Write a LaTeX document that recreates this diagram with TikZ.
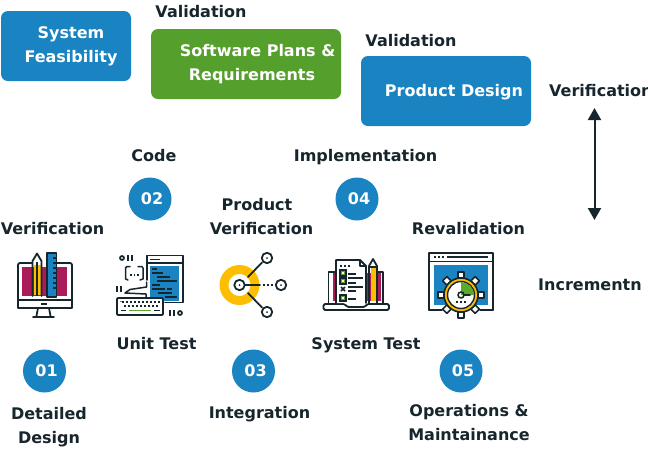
\documentclass[tikz,border=0pt]{standalone}
\usepackage{fontspec}
\setmainfont{DejaVu Sans}
\usetikzlibrary{arrows.meta}
\definecolor{ink}{HTML}{17252C}
\definecolor{bluebox}{HTML}{1A83C1}
\definecolor{greenbox}{HTML}{559F2C}
\definecolor{mag}{HTML}{AB1B59}
\definecolor{gold}{HTML}{FDBE00}
\definecolor{iconblue}{HTML}{1A83C1}
\definecolor{icongreen}{HTML}{5BA92F}
\tikzset{
 lbl/.style={text=ink,font=\bfseries\fontsize{16}{24}\selectfont,align=center,inner sep=0pt},
 badge/.style={circle,fill=bluebox,text=white,minimum size=43pt,inner sep=0pt,font=\bfseries\fontsize{16}{18}\selectfont},
 ic/.style={draw=ink,line width=1.8pt,line cap=round,line join=round},
 thin/.style={draw=ink,line width=1.2pt},
 dotl/.style={draw=ink,line width=2pt,dash pattern=on 2pt off 2pt},
}
\newcommand{\badgetext}[1]{\kern4pt #1}
\begin{document}
\begin{tikzpicture}[x=1pt,y=-1pt]
\useasboundingbox (0,0) rectangle (648,448);
\clip (0,0) rectangle (648,448);
% top boxes
\fill[bluebox,rounded corners=7pt] (1,11) rectangle (131,81);
\fill[greenbox,rounded corners=7pt] (151,29) rectangle (341,99);
\fill[bluebox,rounded corners=7pt] (361,56) rectangle (531,126);
\node[lbl,text=white] (feas) at (71,46) {System\\Feasibility};
\node[lbl,text=white] (plans) at (257.5,64) {Software Plans \&\\Requirements\kern11pt};
\node[lbl,text=white] (pdes) at (454,92) {Product Design};
\node[lbl] (val1) at (201,12) {Validation};
\node[lbl] (val2) at (411,41) {Validation};
\node[lbl,anchor=west] (ver1) at (549,91) {Verification};
\coordinate (up) at (594.5,108);
\coordinate (dn) at (594.5,220);
\draw[draw=ink,line width=2pt,{Triangle[length=12pt,width=13pt]}-{Triangle[length=12pt,width=13pt]}] (up) -- (dn);
\node[lbl] (code) at (154,156) {Code};
\node[lbl] (impl) at (365.5,157) {Implementation};
\node[badge] (b2) at (150,199) {\badgetext{02}};
\node[badge] (b4) at (357,199) {\badgetext{04}};
\node[lbl] (pver) at (261.5,217) {Product\kern9pt\\Verification};
\node[lbl] (ver2) at (52.5,229) {Verification};
\node[lbl] (rev) at (468.5,229) {Revalidation};
\node[lbl,anchor=west] (inc) at (538,285) {Incrementn};
\node[lbl] (ut) at (156.5,344) {Unit Test};
\node[lbl] (st) at (366,345) {System Test};
\node[badge] (b1) at (44.5,371) {\badgetext{01}};
\node[badge] (b3) at (253.5,371) {\badgetext{03}};
\node[badge] (b5) at (461,371) {\badgetext{05}};
\node[lbl] (dd) at (49,427) {Detailed\\Design};
\node[lbl] (integ) at (259.5,414) {Integration};
\node[lbl] (ops) at (469,423) {Operations \&\\Maintainance};
% icon 1 monitor
\fill[mag] (22,267) rectangle (67,296);
\draw[ic] (32,263) -- (20,263) arc[start angle=-90,end angle=-180,radius=2] -- (18,308) -- (72,308) -- (72,265) arc[start angle=0,end angle=-90,radius=2] -- (57,263);
\draw[ic] (18,300) -- (72,300);
\draw[ic] (38,308) -- (36.5,316) (49,308) -- (50.5,316) (33,317) -- (54,317);
\draw[draw=ink,line width=1.2pt] (41,304) -- (47,304);
\fill[gold] (33.5,265) rectangle (40.5,295);
\draw[ic] (32.5,296) -- (32.5,261) -- (37,253.5) -- (41.5,261) -- (41.5,296);
\draw[thin] (37,262) -- (37,296);
\fill[iconblue] (47,253) rectangle (56.5,296);
\draw[ic] (47,253) rectangle (56.5,297);
\draw[thin] (53,258) -- (56,258) (53,263) -- (56,263) (53,268) -- (56,268) (53,273) -- (56,273) (53,278) -- (56,278) (53,283) -- (56,283) (53,288) -- (56,288);
% icon 2 code
\fill[iconblue] (150,266) rectangle (179,301);
\draw[ic] (147,280) -- (147,255.5) -- (183,255.5) -- (183,302.5) -- (165,302.5);
\draw[ic] (147,263) -- (183,263);
\draw[thin] (150,259.5) -- (160,259.5);
\draw[draw=ink,line width=1.5pt] (152,269) -- (157,269) (152,273) -- (163,273) (157,277) -- (170,277) (157,281) -- (177,281) (152,285) -- (160,285) (152,289) -- (165,289) (167,289) -- (172,289) (158,293) -- (172,293) (165,297) -- (177,297);
\draw[ic,line width=1.5pt] (130,266.5) -- (127,266.5) -- (125.5,268) -- (125.5,279) -- (128,280) (138,266.5) -- (142,266.5) -- (143,268) -- (143,279) -- (140,280);
\draw[dotl,dash pattern=on 1.5pt off 2pt] (130,274.5) -- (140,274.5);
\draw[ic,line width=1.5pt] (146.5,282) -- (146.5,287) -- (130,289.5) -- (125,293) -- (146,294) -- (146,297);
\draw[ic,fill=white,rounded corners=1pt] (117,298) rectangle (163,315);
\draw[dotl,line width=1.7pt,dash pattern=on 2pt off 2pt] (122,302) -- (160,302) (124,306) -- (158,306);
\draw[draw=icongreen,line width=1.7pt] (129,310.5) -- (151,310.5);
\draw[draw=icongreen,line width=1.7pt] (120,301.5) -- (122,301.5);
\draw[draw=ink,line width=1.7pt] (121,310.5) -- (126,310.5) (154,310.5) -- (160,310.5);
\draw[draw=ink,line width=1.7pt] (122,258) circle (2);
\draw[draw=ink,line width=1.7pt] (128,255) -- (128,261) (132,255) -- (132,261);
\draw[draw=ink,line width=1.7pt] (117,286) -- (117,292) (121,286) -- (121,292);
\draw[draw=ink,line width=1.7pt] (170,310) -- (170,316) (174,310) -- (174,316);
\draw[draw=ink,line width=1.7pt] (180,313) circle (2);
% icon 3
\draw[gold,line width=9pt] (239.5,285) circle (15.5);
\draw[ic,line width=1.8pt] (248,277) -- (262,262.5) (248,293) -- (262,307.5);
\draw[ic,line width=1.8pt] (240,285) -- (260,285);
\draw[dotl] (263,285) -- (274,285);
\draw[ic,fill=white] (239.5,285) circle (5.2);
\draw[ic,fill=white] (267,258) circle (5.2);
\draw[ic,fill=white] (281,285) circle (5.2);
\draw[ic,fill=white] (267,312) circle (5.2);
\foreach \p in {(239.5,285),(267,258),(281,285),(267,312)} \fill[ink] \p circle (1);
% icon 4 laptop
\fill[mag] (332.5,273) rectangle (337,301);
\fill[mag] (366,273) rectangle (381,301);
\draw[ic] (336,272) -- (328.5,272) -- (328.5,303) (377,272) -- (383,272) -- (383,303);
\draw[ic,fill=white,rounded corners=1.5pt] (323.5,304) -- (345,304) -- (347,307) -- (365,307) -- (367,304) -- (389,304) -- (389,310) -- (323.5,310) -- cycle;
\draw[ic,fill=white] (366,303) -- (366,266) -- (360,260) -- (336,260) -- (336,303);
\draw[ic] (360,260) -- (360,266) -- (366,266);
\draw[dotl,line width=1.6pt] (340,266) -- (350,266);
\foreach \y in {273,281,298} {\fill[icongreen] (340,\y-3) rectangle (346,\y+3); \draw[thin] (340,\y-3) rectangle (346,\y+3); \fill[white] (342,\y-1) rectangle (344,\y+1);}
\draw[draw=ink,line width=1.5pt] (341,287) -- (345,291) (341,291) -- (345,287);
\draw[draw=ink,line width=1.5pt] (348,274) -- (356,274) (348,278) -- (363,278) (348,283) -- (356,283) (348,287) -- (363,287) (348,291) -- (356,291) (348,299) -- (356,299);
\fill[gold] (370.5,267) rectangle (375.5,301);
\draw[ic] (369,303) -- (369,266) -- (373,259) -- (377,266) -- (377,303);
\draw[thin] (369,267) -- (377,267);
% icon 5 gear
\fill[iconblue] (433.5,265) rectangle (488,305);
\draw[ic] (429,310) -- (429,253) -- (493,253) -- (493,310);
\draw[ic] (429,310) -- (442,310) (480,310) -- (493,310);
\draw[ic] (429,261.5) -- (493,261.5);
\draw[dotl,line width=1.6pt] (434,257) -- (445,257);
\draw[draw=ink,line width=1.5pt] (447,257) -- (488,257);
\foreach \a in {0,45,...,315} {
 \draw[ic,line width=1.6pt,fill=white,rotate around={\a:(461,295)}] (458,272) rectangle (464,278);
}
\draw[ic,line width=1.6pt,fill=gold] (461,295) circle (17);
\draw[ic,line width=1.4pt,fill=white] (461,295) circle (13.5);
\fill[icongreen] (461,282) -- (461,295) -- (474,295) arc[start angle=0,end angle=-90,radius=13] -- cycle;
\draw[ic,line width=1.6pt] (461,295) circle (3);
\draw[ic,line width=1.6pt] (464,295) -- (470,295);
\draw[dotl,line width=1.6pt] (456,302) -- (466,302);
\end{tikzpicture}
\end{document}
